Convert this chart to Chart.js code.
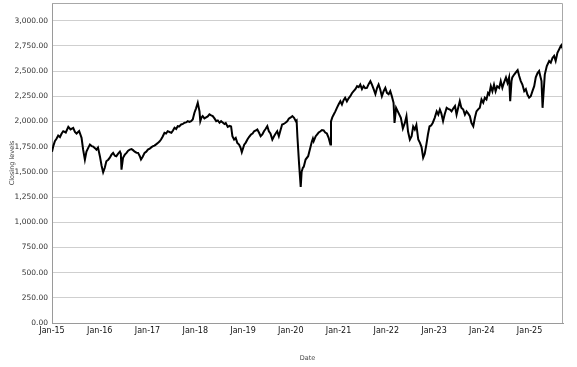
<!DOCTYPE html>
<html>
<head>
<meta charset="utf-8">
<script src="https://cdn.jsdelivr.net/npm/chart.js@4.4.1/dist/chart.umd.min.js"></script>
<style>
  html, body { margin: 0; padding: 0; background: #fff; }
  #wrap { width: 577px; height: 367px; }
</style>
</head>
<body>
<div id="wrap"><canvas id="c" width="577" height="367"></canvas></div>
<script>
const dates = [
'2015-01-01','2015-01-12','2015-01-23','2015-02-06','2015-02-18','2015-03-01','2015-03-14','2015-03-26','2015-04-15','2015-05-04',
'2015-05-21','2015-06-11','2015-06-24','2015-07-06','2015-07-26','2015-08-14','2015-08-26','2015-09-09','2015-09-21','2015-10-05',
'2015-10-17','2015-10-30','2015-11-12','2015-11-25','2015-12-06','2015-12-18','2016-01-02','2016-01-15','2016-01-27','2016-02-09',
'2016-02-21','2016-03-05','2016-03-17','2016-03-30','2016-04-12','2016-04-25','2016-05-06','2016-05-20','2016-06-03','2016-06-10',
'2016-06-15','2016-06-27','2016-07-10','2016-07-23','2016-08-05','2016-08-18','2016-08-31','2016-09-12','2016-09-25','2016-10-08',
'2016-10-20','2016-11-03','2016-11-12','2016-11-25','2016-12-09','2016-12-22','2017-01-04','2017-01-18','2017-02-01','2017-02-13',
'2017-02-24','2017-03-08','2017-03-19','2017-04-01','2017-04-13','2017-04-26','2017-05-09','2017-05-21','2017-06-03','2017-06-17',
'2017-07-01','2017-07-13','2017-07-25','2017-08-07','2017-08-19','2017-09-01','2017-09-15','2017-09-28','2017-10-10','2017-10-22',
'2017-11-04','2017-11-17','2017-11-30','2017-12-12','2017-12-25','2018-01-07','2018-01-20','2018-02-03','2018-02-09','2018-02-18',
'2018-02-27','2018-03-10','2018-03-23','2018-04-05','2018-04-18','2018-05-01','2018-05-13','2018-05-26','2018-06-09','2018-06-21',
'2018-07-04','2018-07-16','2018-07-28','2018-08-11','2018-08-21','2018-09-06','2018-09-20','2018-10-01','2018-10-11','2018-10-24',
'2018-11-06','2018-11-18','2018-12-01','2018-12-13','2018-12-22','2019-01-10','2019-01-22','2019-02-04','2019-02-16','2019-03-01',
'2019-03-13','2019-03-25','2019-04-07','2019-04-19','2019-05-02','2019-05-14','2019-05-27','2019-06-09','2019-06-21','2019-07-04',
'2019-07-16','2019-07-28','2019-08-12','2019-08-25','2019-09-07','2019-09-19','2019-10-01','2019-10-13','2019-10-26','2019-11-08',
'2019-11-21','2019-12-04','2019-12-16','2020-01-01','2020-01-13','2020-01-26','2020-02-09','2020-02-15','2020-02-21','2020-03-03',
'2020-03-16','2020-03-23','2020-04-02','2020-04-09','2020-04-23','2020-05-12','2020-06-01','2020-06-10','2020-06-18','2020-06-24',
'2020-07-09','2020-07-19','2020-08-01','2020-08-13','2020-08-26','2020-09-09','2020-09-21','2020-10-03','2020-10-16','2020-10-30',
'2020-11-04','2020-11-14','2020-11-25','2020-12-07','2020-12-19','2021-01-02','2021-01-15','2021-01-27','2021-02-09','2021-02-21',
'2021-03-04','2021-03-17','2021-03-30','2021-04-12','2021-04-25','2021-05-08','2021-05-21','2021-06-03','2021-06-15','2021-06-28',
'2021-07-10','2021-07-22','2021-08-05','2021-08-18','2021-09-01','2021-09-13','2021-09-26','2021-10-09','2021-10-22','2021-11-03',
'2021-11-15','2021-11-28','2021-12-11','2021-12-24','2022-01-06','2022-01-19','2022-02-01','2022-02-13','2022-02-26','2022-03-03',
'2022-03-15','2022-04-03','2022-04-21','2022-05-06','2022-05-21','2022-06-03','2022-06-15','2022-06-29','2022-07-12','2022-07-24',
'2022-08-06','2022-08-18','2022-09-02','2022-09-15','2022-09-27','2022-10-09','2022-10-21','2022-11-03','2022-11-15','2022-11-27',
'2022-12-09','2022-12-21','2023-01-06','2023-01-21','2023-02-03','2023-02-15','2023-02-26','2023-03-09','2023-03-21','2023-04-06',
'2023-04-18','2023-05-01','2023-05-13','2023-05-27','2023-06-09','2023-06-21','2023-07-03','2023-07-15','2023-07-27','2023-08-11',
'2023-08-24','2023-09-06','2023-09-18','2023-10-01','2023-10-13','2023-10-27','2023-11-09','2023-11-21','2023-12-03','2023-12-16',
'2023-12-29','2024-01-12','2024-01-24','2024-02-06','2024-02-18','2024-02-27','2024-03-09','2024-03-21','2024-04-03','2024-04-15',
'2024-04-27','2024-05-12','2024-05-24','2024-06-06','2024-06-18','2024-07-03','2024-07-15','2024-07-27','2024-08-05','2024-08-15',
'2024-08-21','2024-09-05','2024-09-25','2024-10-01','2024-10-13','2024-10-25','2024-11-07','2024-11-21','2024-12-03','2024-12-15',
'2024-12-28','2025-01-10','2025-01-23','2025-02-06','2025-02-18','2025-03-01','2025-03-13','2025-03-22','2025-04-01','2025-04-09',
'2025-04-15','2025-04-26','2025-05-11','2025-05-29','2025-06-11','2025-06-24','2025-07-06','2025-07-18','2025-08-01','2025-08-14',
'2025-08-27','2025-09-03','2025-09-12'
];

const closingLevels = [
1700,1760,1805,1830,1860,1845,1880,1903,1890,1946,
1920,1935,1895,1880,1905,1837,1720,1620,1700,1740,
1770,1755,1750,1735,1720,1740,1655,1560,1495,1540,
1605,1620,1640,1670,1688,1660,1655,1680,1700,1680,
1522,1640,1670,1688,1710,1720,1725,1715,1700,1690,
1688,1655,1622,1650,1688,1700,1720,1730,1745,1755,
1760,1775,1787,1800,1820,1850,1887,1880,1903,1895,
1887,1910,1937,1925,1953,1950,1970,1975,1987,1990,
2003,1995,2003,2020,2086,2130,2185,2100,2003,2040,
2053,2030,2040,2050,2070,2060,2053,2030,2003,2010,
1987,2003,1990,1975,1985,1945,1955,1950,1853,1820,
1837,1787,1770,1738,1694,1770,1790,1820,1845,1870,
1880,1903,1910,1920,1887,1853,1870,1903,1925,1953,
1903,1880,1820,1853,1880,1903,1853,1910,1970,1975,
1987,2000,2026,2040,2053,2036,2003,2010,1853,1589,
1350,1500,1540,1550,1622,1655,1754,1800,1830,1803,
1853,1870,1890,1900,1915,1910,1890,1880,1840,1770,
2000,2040,2068,2100,2135,2170,2200,2168,2210,2235,
2200,2230,2250,2280,2300,2320,2350,2340,2366,2320,
2350,2330,2333,2370,2400,2366,2320,2270,2333,2366,
2320,2250,2300,2333,2283,2270,2300,2250,2185,1985,
2135,2085,2036,1930,1985,2052,1900,1820,1853,1950,
1920,1965,1820,1787,1745,1640,1680,1770,1870,1950,
1960,1985,2036,2100,2068,2118,2080,2003,2068,2135,
2125,2118,2100,2130,2153,2068,2135,2200,2135,2118,
2068,2100,2080,2052,1985,1952,2036,2100,2120,2135,
2218,2185,2235,2218,2283,2268,2350,2300,2365,2300,
2350,2333,2400,2333,2383,2437,2383,2437,2200,2400,
2437,2465,2500,2510,2450,2400,2366,2300,2320,2267,
2235,2250,2300,2350,2437,2480,2500,2450,2400,2135,
2250,2465,2550,2600,2583,2630,2650,2600,2680,2715,
2750,2760,2715
];

const xTickYears = [2015,2016,2017,2018,2019,2020,2021,2022,2023,2024,2025];
const xTickLabels = ['Jan-15','Jan-16','Jan-17','Jan-18','Jan-19','Jan-20','Jan-21','Jan-22','Jan-23','Jan-24','Jan-25'];
const yTickValues = [0,250,500,750,1000,1250,1500,1750,2000,2250,2500,2750,3000];

function toYear(d) {
  const [y, m, day] = d.split('-').map(Number);
  return y + (m - 1) / 12 + (day - 1) / 365;
}

const points = dates.map((d, i) => ({ x: toYear(d), y: closingLevels[i] }));

const borderBox = {
  id: 'borderBox',
  afterDraw(chart) {
    const a = chart.chartArea, ctx = chart.ctx;
    ctx.save();
    ctx.strokeStyle = '#a8a8a8';
    ctx.lineWidth = 1;
    ctx.beginPath();
    ctx.moveTo(a.left, a.top + 0.5);
    ctx.lineTo(a.right - 0.5, a.top + 0.5);
    ctx.lineTo(a.right - 0.5, a.bottom);
    ctx.stroke();
    ctx.restore();
  }
};

new Chart(document.getElementById('c'), {
  type: 'line',
  data: {
    datasets: [{
      data: points,
      borderColor: '#000',
      borderWidth: 2,
      pointRadius: 0,
      tension: 0,
      fill: false
    }]
  },
  options: {
    responsive: false,
    animation: false,
    events: [],
    layout: { padding: { top: 3, right: 14, left: 0, bottom: 0 } },
    plugins: { legend: { display: false }, tooltip: { enabled: false } },
    scales: {
      x: {
        type: 'linear',
        min: 2015,
        max: 2025.7,
        afterBuildTicks: s => { s.ticks = xTickYears.map(v => ({ value: v })); },
        afterFit: s => { s.height = 44; s.paddingLeft = 0; s.paddingRight = 0; },
        grid: { display: false, drawTicks: false },
        border: { display: true, color: '#9a9a9a', width: 1 },
        ticks: {
          autoSkip: false, maxRotation: 0, minRotation: 0, padding: 3,
          color: '#111',
          font: { family: 'DejaVu Sans', size: 8 },
          callback: v => xTickLabels[xTickYears.indexOf(v)]
        },
        title: {
          display: true, text: 'Date', color: '#444',
          font: { family: 'DejaVu Sans', size: 6.5 },
          padding: { top: 0, bottom: 5 }
        }
      },
      y: {
        type: 'linear',
        min: 0,
        max: 3175,
        afterBuildTicks: s => { s.ticks = yTickValues.map(v => ({ value: v })); },
        afterFit: s => { s.width = 52; s.paddingTop = 0; s.paddingBottom = 0; },
        grid: { color: '#cfcfcf', lineWidth: 1, drawTicks: false },
        border: { display: true, color: '#9a9a9a', width: 1 },
        ticks: {
          padding: 4, color: '#333',
          font: { family: 'DejaVu Sans', size: 7.5 },
          callback: v => v.toLocaleString('en-US', { minimumFractionDigits: 2, maximumFractionDigits: 2 })
        },
        title: {
          display: true, text: 'Closing levels', color: '#444',
          font: { family: 'DejaVu Sans', size: 6.5 },
          padding: { top: 8, bottom: 0 }
        }
      }
    }
  },
  plugins: [borderBox]
});
</script>
</body>
</html>
